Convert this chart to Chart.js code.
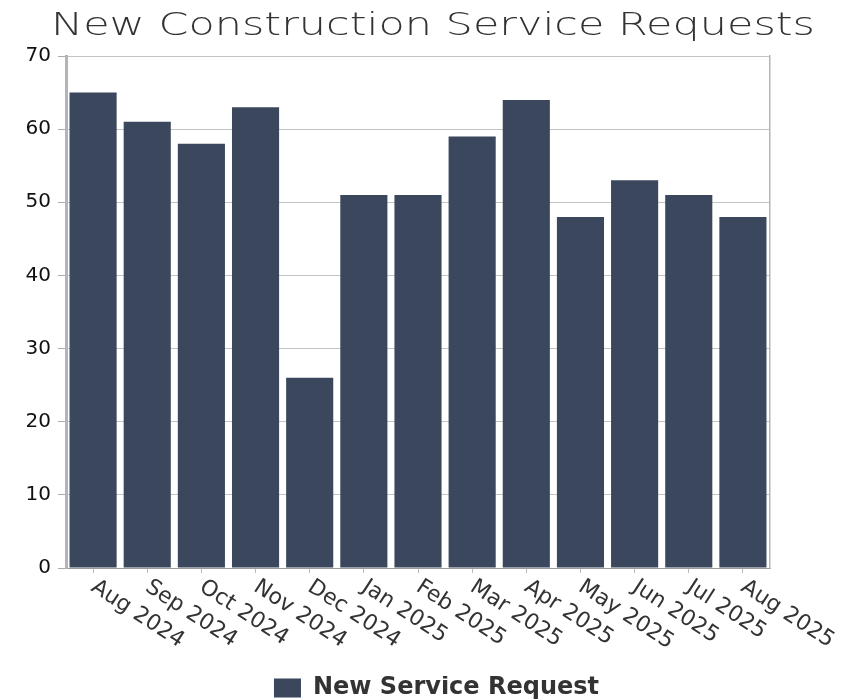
<!DOCTYPE html>
<html>
<head>
<meta charset="utf-8">
<title>New Construction Service Requests</title>
<script src="https://cdn.jsdelivr.net/npm/chart.js@4/dist/chart.umd.min.js"></script>
<style>
  html, body { margin: 0; padding: 0; background: #fff; }
  #wrap { width: 865px; height: 699px; }
</style>
</head>
<body>
<div id="wrap"><canvas id="chart" width="865" height="699"></canvas></div>
<script>
// monthly counts, Aug 2024 – Aug 2025
const months = ['Aug 2024', 'Sep 2024', 'Oct 2024', 'Nov 2024', 'Dec 2024', 'Jan 2025', 'Feb 2025',
                'Mar 2025', 'Apr 2025', 'May 2025', 'Jun 2025', 'Jul 2025', 'Aug 2025'];
const requests = [65, 61, 58, 63, 26, 51, 51, 59, 64, 48, 53, 51, 48];
const yTicks = [0, 10, 20, 30, 40, 50, 60, 70];
const chartTitle = 'New Construction Service Requests';

const FONT = "'Century Gothic', 'DejaVu Sans', sans-serif";
const BAR = '#3a475c';

// wide, light heading (Century Gothic look) stretched across the top
const wideTitle = {
  id: 'wideTitle',
  afterDraw(chart) {
    const { ctx } = chart;
    ctx.save();
    ctx.font = `300 32px ${FONT}`;
    ctx.fillStyle = '#333';
    ctx.textAlign = 'center';
    ctx.textBaseline = 'alphabetic';
    const sx = 764 / ctx.measureText(chartTitle).width;
    ctx.translate(433, 35);
    ctx.scale(sx, 1);
    ctx.fillText(chartTitle, 0, 0);
    ctx.restore();
  },
};

// x labels slant down to the right, so they are drawn here instead of by the scale
const slantedLabels = {
  id: 'slantedLabels',
  afterDraw(chart) {
    const { ctx, scales: { x } } = chart;
    ctx.save();
    ctx.font = `22px ${FONT}`;
    ctx.fillStyle = '#333';
    ctx.textAlign = 'left';
    ctx.textBaseline = 'top';
    months.forEach((m, i) => {
      const px = x.getPixelForTick(i);
      ctx.save();
      ctx.translate(px + 6, x.top + 8);
      ctx.rotate(33 * Math.PI / 180);
      ctx.fillText(m, 0, 0);
      ctx.restore();
    });
    ctx.restore();
  },
};

new Chart(document.getElementById('chart'), {
  type: 'bar',
  data: {
    labels: months,
    datasets: [{
      label: 'New Service Request',
      data: requests,
      backgroundColor: BAR,
      borderWidth: 0,
      barPercentage: 0.87,
      categoryPercentage: 1,
    }],
  },
  options: {
    responsive: false,
    animation: false,
    layout: { padding: { top: 56, left: 8, right: 0, bottom: 0 } },
    plugins: {
      title: { display: false },
      legend: {
        position: 'bottom',
        maxHeight: 23,
        labels: {
          color: '#333',
          font: { family: FONT, size: 24, weight: 'bold' },
          boxWidth: 27,
          boxHeight: 19,
          padding: 0,
        },
      },
      tooltip: { enabled: false },
    },
    scales: {
      x: {
        afterFit: s => { s.height = 108; },
        ticks: { display: false },
        grid: { display: true, drawOnChartArea: false, offset: false, tickLength: 5, tickColor: '#bbb' },
        border: { display: true, color: '#9a9a9a', width: 1 },
      },
      y: {
        min: 0,
        max: 70,
        afterFit: s => { s.width = 58; },
        afterBuildTicks: s => { s.ticks = yTicks.map(v => ({ value: v })); },
        ticks: {
          color: '#111',
          font: { family: FONT, size: 20 },
          padding: 7,
        },
        grid: { color: '#c4c4c4', lineWidth: 1, tickLength: 8, tickColor: '#aaa' },
        border: { display: true, color: '#b2b4ba', width: 3 },
      },
      // empty right-hand axis: only its border line closes the frame
      yRight: {
        position: 'right',
        display: true,
        afterFit: s => { s.width = 95; },
        ticks: { display: false },
        grid: { display: false, drawTicks: false },
        border: { display: true, color: '#b5b5b5', width: 1.5 },
      },
    },
  },
  plugins: [wideTitle, slantedLabels],
});
</script>
</body>
</html>
